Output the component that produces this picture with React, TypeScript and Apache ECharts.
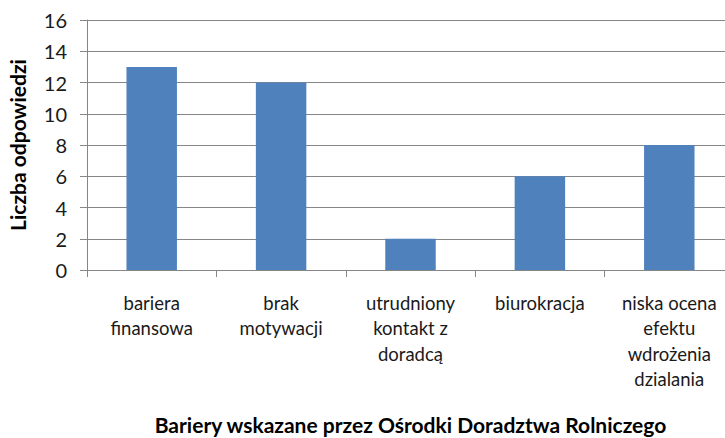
import React, { useEffect, useRef } from "react";
import * as echarts from "echarts";

const categories = [
  "bariera\nfinansowa",
  "brak\nmotywacji",
  "utrudniony\nkontakt z\ndoradcą",
  "biurokracja",
  "niska ocena\nefektu\nwdrożenia\ndzialania",
];
const values = [13, 12, 2, 6, 8];
const yTitle = "Liczba odpowiedzi";
const xTitle = "Bariery wskazane przez Ośrodki Doradztwa Rolniczego";

const FONT = "Lato, 'Open Sans', sans-serif";
const AXIS_COLOR = "#868686";

export default function App() {
  const ref = useRef<HTMLDivElement>(null);
  useEffect(() => {
    if (!ref.current) return;
    const chart = echarts.init(ref.current, undefined, { renderer: "svg" });
    chart.setOption({
      animation: false,
      grid: { left: 87, top: 20, width: 647, height: 250, outerBoundsMode: "none", containLabel: false },
      xAxis: {
        type: "category",
        data: categories,
        axisLine: { lineStyle: { color: AXIS_COLOR, width: 1 } },
        axisTick: { show: true, length: 7, lineStyle: { color: AXIS_COLOR } },
        axisLabel: {
          color: "#1a1a1a",
          fontFamily: FONT,
          fontSize: 18.5,
          lineHeight: 25.5,
          margin: 20,
          interval: 0,
          align: "center",
        },
        name: xTitle,
        nameLocation: "middle",
        nameGap: 144,
        nameTextStyle: { color: "#000", fontFamily: FONT, fontSize: 21, fontWeight: "bold" },
      },
      yAxis: {
        type: "value",
        min: 0,
        max: 16,
        interval: 2,
        axisLine: { show: true, lineStyle: { color: AXIS_COLOR, width: 1 } },
        axisTick: { show: true, length: 7, lineStyle: { color: AXIS_COLOR } },
        splitLine: { show: true, lineStyle: { color: AXIS_COLOR, width: 1 } },
        axisLabel: { color: "#1a1a1a", fontFamily: FONT, fontSize: 20, margin: 20 },
        name: yTitle,
        nameLocation: "middle",
        nameGap: 59,
        nameTextStyle: { color: "#000", fontFamily: FONT, fontSize: 21, fontWeight: "bold" },
      },
      series: [
        {
          type: "bar",
          data: values,
          barWidth: "39%",
          itemStyle: { color: "#4F81BD" },
        },
      ],
    });
    return () => chart.dispose();
  }, []);
  return <div ref={ref} style={{ width: 725, height: 438, position: "absolute", left: 0, top: 0, background: "#fff" }} />;
}
